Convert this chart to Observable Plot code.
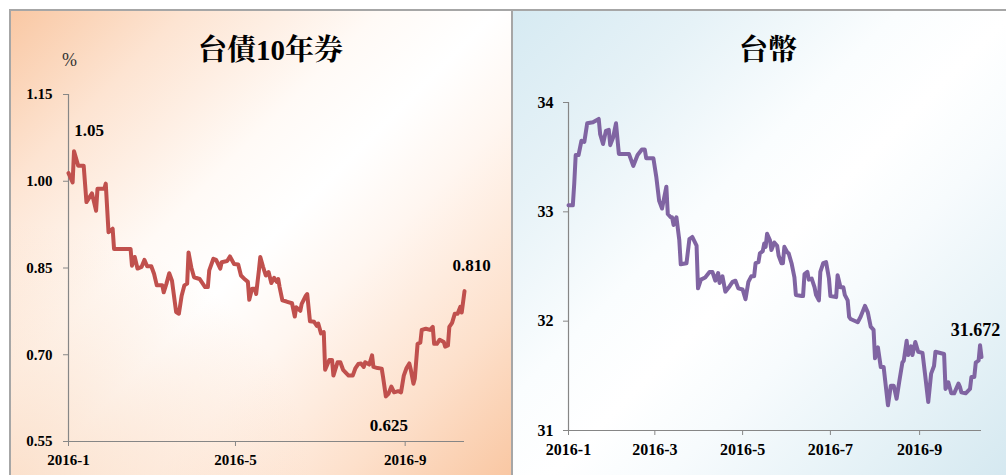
<!DOCTYPE html>
<html>
<head>
<meta charset="utf-8">
<script src="https://cdn.jsdelivr.net/npm/d3@7"></script>
<script src="https://cdn.jsdelivr.net/npm/@observablehq/plot@0.6"></script>
<style>
  html, body { margin: 0; padding: 0; background: #fff; }
  body { width: 1006px; height: 475px; overflow: hidden; position: relative; }
  .panel { position: absolute; top: 9px; height: 475px; box-sizing: border-box;
           border-top: 2px solid #a6a6a6; border-left: 2px solid #a6a6a6; overflow: hidden; }
  #p1 { left: 9px; width: 502px;
        background:
          radial-gradient(ellipse 60% 55% at 0% 100%, rgba(250,214,186,0.75), rgba(250,214,186,0) 100%),
          linear-gradient(135deg, #f9c8a4 0%, #fde4d2 18%, #fffaf6 38%, #ffffff 50%, #fff6f0 62%, #fde0cb 82%, #f9c6a1 100%); }
  #p2 { left: 511px; width: 495px;
        background:
          linear-gradient(135deg, #d6eaf2 0%, #e6f2f7 20%, #fafdfe 40%, #ffffff 52%, #f7fbfd 64%, #e4f1f6 84%, #d4e8f0 100%); }
  .panel svg { position: absolute; left: 0; top: 0; overflow: visible; }
</style>
</head>
<body>
<div id="p1" class="panel"></div>
<div id="p2" class="panel"></div>
<script>
// ---------- 台債10年券 (10-year Taiwan government bond yield, %) ----------
const bondTitle = "台債10年券";
const bondUnit = "%";
const bondYTicks = [0.55, 0.70, 0.85, 1.00, 1.15];
const bondXTicks = ["2016-01-04", "2016-05-04", "2016-09-04"];
const bondSeries = [
  ["2016-01-04",1.014],["2016-01-07",0.998],["2016-01-08",1.052],["2016-01-11",1.027],
  ["2016-01-15",1.027],["2016-01-17",0.964],["2016-01-21",0.979],["2016-01-24",0.949],
  ["2016-01-25",0.987],["2016-01-30",0.987],["2016-01-31",0.996],["2016-02-02",0.912],
  ["2016-02-05",0.918],["2016-02-06",0.883],["2016-02-18",0.883],["2016-02-19",0.854],
  ["2016-02-21",0.869],["2016-02-23",0.849],["2016-02-26",0.852],["2016-02-28",0.864],
  ["2016-03-01",0.853],["2016-03-04",0.853],["2016-03-06",0.840],["2016-03-08",0.820],
  ["2016-03-12",0.820],["2016-03-13",0.808],["2016-03-15",0.823],["2016-03-17",0.841],
  ["2016-03-19",0.828],["2016-03-22",0.774],["2016-03-24",0.771],["2016-03-26",0.802],
  ["2016-03-28",0.820],["2016-03-30",0.823],["2016-03-31",0.877],["2016-04-02",0.851],
  ["2016-04-04",0.834],["2016-04-08",0.831],["2016-04-12",0.817],["2016-04-14",0.817],
  ["2016-04-15",0.846],["2016-04-18",0.866],["2016-04-20",0.864],["2016-04-23",0.849],
  ["2016-04-24",0.860],["2016-04-28",0.862],["2016-04-30",0.870],["2016-05-03",0.857],
  ["2016-05-06",0.856],["2016-05-08",0.837],["2016-05-11",0.830],["2016-05-13",0.826],
  ["2016-05-14",0.795],["2016-05-16",0.814],["2016-05-18",0.814],["2016-05-19",0.805],
  ["2016-05-21",0.846],["2016-05-22",0.869],["2016-05-24",0.852],["2016-05-26",0.837],
  ["2016-05-28",0.843],["2016-05-30",0.824],["2016-06-01",0.833],["2016-06-03",0.826],
  ["2016-06-04",0.831],["2016-06-05",0.817],["2016-06-07",0.794],["2016-06-10",0.792],
  ["2016-06-14",0.789],["2016-06-16",0.766],["2016-06-17",0.782],["2016-06-20",0.776],
  ["2016-06-21",0.788],["2016-06-24",0.802],["2016-06-25",0.805],["2016-06-27",0.758],
  ["2016-06-30",0.757],["2016-07-02",0.750],["2016-07-03",0.754],["2016-07-05",0.737],
  ["2016-07-07",0.739],["2016-07-08",0.674],["2016-07-11",0.691],["2016-07-13",0.691],
  ["2016-07-14",0.664],["2016-07-17",0.687],["2016-07-19",0.687],["2016-07-21",0.674],
  ["2016-07-25",0.664],["2016-07-28",0.664],["2016-07-30",0.677],["2016-08-01",0.684],
  ["2016-08-03",0.685],["2016-08-05",0.679],["2016-08-06",0.687],["2016-08-09",0.683],
  ["2016-08-11",0.699],["2016-08-12",0.679],["2016-08-15",0.677],["2016-08-18",0.676],
  ["2016-08-19",0.661],["2016-08-21",0.628],["2016-08-23",0.633],["2016-08-25",0.645],
  ["2016-08-27",0.635],["2016-08-30",0.637],["2016-09-01",0.635],["2016-09-03",0.664],
  ["2016-09-05",0.677],["2016-09-07",0.685],["2016-09-08",0.675],["2016-09-10",0.650],
  ["2016-09-11",0.659],["2016-09-13",0.719],["2016-09-15",0.721],["2016-09-16",0.743],
  ["2016-09-19",0.745],["2016-09-22",0.743],["2016-09-24",0.748],["2016-09-25",0.719],
  ["2016-09-27",0.719],["2016-09-29",0.726],["2016-10-02",0.722],["2016-10-03",0.714],
  ["2016-10-05",0.716],["2016-10-06",0.748],["2016-10-08",0.755],["2016-10-10",0.771],
  ["2016-10-12",0.771],["2016-10-14",0.783],["2016-10-15",0.773],["2016-10-17",0.810]
];
const bondNotes = [
  {date: "2016-01-08", value: 1.052, label: "1.05"},
  {date: "2016-08-21", value: 0.628, label: "0.625"},
  {date: "2016-10-17", value: 0.810, label: "0.810"}
];

// ---------- 台幣 (TWD per USD) ----------
const twdTitle = "台幣";
const twdYTicks = [31, 32, 33, 34];
const twdXTicks = ["2016-01-04", "2016-03-04", "2016-05-04", "2016-07-04", "2016-09-04"];
const twdSeries = [
  ["2016-01-04",33.06],["2016-01-07",33.06],["2016-01-08",33.26],["2016-01-09",33.52],
  ["2016-01-11",33.52],["2016-01-13",33.65],["2016-01-15",33.64],["2016-01-17",33.81],
  ["2016-01-21",33.82],["2016-01-25",33.85],["2016-01-26",33.71],["2016-01-28",33.62],
  ["2016-01-30",33.74],["2016-02-01",33.75],["2016-02-02",33.61],["2016-02-04",33.68],
  ["2016-02-06",33.81],["2016-02-08",33.53],["2016-02-15",33.53],["2016-02-18",33.42],
  ["2016-02-21",33.52],["2016-02-24",33.57],["2016-02-26",33.57],["2016-02-27",33.49],
  ["2016-03-03",33.49],["2016-03-05",33.32],["2016-03-07",33.10],["2016-03-09",33.03],
  ["2016-03-12",33.23],["2016-03-13",32.98],["2016-03-15",32.95],["2016-03-16",32.95],
  ["2016-03-17",32.88],["2016-03-19",32.95],["2016-03-21",32.74],["2016-03-22",32.52],
  ["2016-03-26",32.53],["2016-03-28",32.75],["2016-03-30",32.77],["2016-04-02",32.69],
  ["2016-04-03",32.30],["2016-04-05",32.38],["2016-04-08",32.40],["2016-04-11",32.45],
  ["2016-04-13",32.45],["2016-04-15",32.37],["2016-04-17",32.44],["2016-04-18",32.35],
  ["2016-04-20",32.41],["2016-04-22",32.27],["2016-04-25",32.32],["2016-04-27",32.36],
  ["2016-04-29",32.37],["2016-05-01",32.30],["2016-05-04",32.29],["2016-05-06",32.20],
  ["2016-05-08",32.36],["2016-05-10",32.41],["2016-05-12",32.41],["2016-05-13",32.53],
  ["2016-05-15",32.54],["2016-05-16",32.62],["2016-05-18",32.64],["2016-05-19",32.71],
  ["2016-05-20",32.68],["2016-05-21",32.80],["2016-05-23",32.74],["2016-05-24",32.65],
  ["2016-05-26",32.72],["2016-05-28",32.69],["2016-05-29",32.60],["2016-05-31",32.53],
  ["2016-06-01",32.53],["2016-06-02",32.68],["2016-06-04",32.63],["2016-06-05",32.62],
  ["2016-06-07",32.53],["2016-06-09",32.40],["2016-06-10",32.24],["2016-06-14",32.23],
  ["2016-06-15",32.23],["2016-06-16",32.43],["2016-06-18",32.45],["2016-06-19",32.38],
  ["2016-06-21",32.39],["2016-06-23",32.31],["2016-06-24",32.24],["2016-06-26",32.19],
  ["2016-06-27",32.45],["2016-06-29",32.53],["2016-07-01",32.54],["2016-07-03",32.39],
  ["2016-07-04",32.23],["2016-07-08",32.22],["2016-07-09",32.42],["2016-07-11",32.31],
  ["2016-07-13",32.31],["2016-07-14",32.24],["2016-07-16",32.19],["2016-07-17",32.04],
  ["2016-07-18",32.02],["2016-07-23",31.99],["2016-07-25",32.04],["2016-07-28",32.14],
  ["2016-07-30",32.08],["2016-08-01",31.95],["2016-08-03",31.92],["2016-08-04",31.66],
  ["2016-08-06",31.76],["2016-08-08",31.58],["2016-08-10",31.58],["2016-08-13",31.23],
  ["2016-08-15",31.41],["2016-08-17",31.41],["2016-08-19",31.29],["2016-08-21",31.46],
  ["2016-08-23",31.62],["2016-08-24",31.64],["2016-08-26",31.82],["2016-08-27",31.69],
  ["2016-08-29",31.77],["2016-08-30",31.69],["2016-09-01",31.81],["2016-09-03",31.72],
  ["2016-09-06",31.71],["2016-09-08",31.49],["2016-09-10",31.26],["2016-09-12",31.52],
  ["2016-09-14",31.59],["2016-09-15",31.72],["2016-09-21",31.70],["2016-09-22",31.38],
  ["2016-09-24",31.44],["2016-09-26",31.34],["2016-09-28",31.34],["2016-10-01",31.43],
  ["2016-10-02",31.40],["2016-10-03",31.35],["2016-10-06",31.34],["2016-10-09",31.38],
  ["2016-10-10",31.49],["2016-10-12",31.49],["2016-10-13",31.62],["2016-10-15",31.64],
  ["2016-10-16",31.78],["2016-10-17",31.672]
];
const twdNotes = [
  {date: "2016-10-17", value: 31.672, label: "31.672"}
];

const xDomain = ["2016-01-04", "2016-10-17"];

// ---------- helpers ----------
const parse = d3.utcParse("%Y-%m-%d");
const toRows = s => s.map(([d, v]) => ({date: parse(d), value: v}));
const monthFmt = d => `${d.getUTCFullYear()}-${d.getUTCMonth() + 1}`;
const axisGray = "#868686";
const serif = "Liberation Serif, Times New Roman, serif";
const titleFont = "Liberation Serif, Noto Serif CJK TC, Noto Sans CJK TC, serif";

function panelChart(cfg) {
  const rows = toRows(cfg.series);
  const notes = cfg.notes.map(n => ({...n, date: parse(n.date)}));
  const x0 = parse(xDomain[0]);
  const marks = [
    Plot.ruleX([x0], {stroke: axisGray, strokeWidth: 1.2}),
    Plot.ruleY([cfg.yDomain[0]], {stroke: axisGray, strokeWidth: 1.2}),
    Plot.axisY({ticks: cfg.yTicks, tickFormat: cfg.yFormat, tickSize: 5, tickPadding: cfg.yPad,
                stroke: axisGray, fill: "#000", fontWeight: "bold", fontSize: cfg.tickFont,
                fontFamily: serif, label: null}),
    Plot.axisX({ticks: cfg.xTicks.map(parse), tickFormat: monthFmt, tickSize: 5, tickPadding: 8,
                stroke: axisGray, fill: "#000", fontWeight: "bold", fontSize: cfg.tickFont,
                fontFamily: serif, label: null}),
    Plot.line(rows, {x: "date", y: "value", stroke: cfg.color, strokeWidth: 4,
                     strokeLinejoin: "round", strokeLinecap: "round", curve: "linear"}),
    Plot.text([cfg.title], {frameAnchor: "top", lineAnchor: "middle", textAnchor: "middle",
                            dx: cfg.titleDx, dy: cfg.titleDy,
                            fontSize: 29, fontWeight: "bold", fontFamily: titleFont, fill: "#000"})
  ];
  notes.forEach((n, i) => {
    marks.push(Plot.text([n], {x: "date", y: "value", text: "label",
      dx: cfg.noteOffsets[i][0], dy: cfg.noteOffsets[i][1],
      fontSize: cfg.noteFont, fontWeight: "bold", fontFamily: serif, fill: "#000"}));
  });
  if (cfg.unit) {
    marks.push(Plot.text([cfg.unit], {frameAnchor: "top-left", lineAnchor: "middle", textAnchor: "middle",
      dx: 1, dy: -34, fontSize: 18, fontFamily: serif, fill: "#333"}));
  }
  return Plot.plot({
    width: cfg.width, height: 464,
    marginLeft: cfg.ml, marginRight: cfg.mr, marginTop: cfg.mt, marginBottom: cfg.mb,
    style: {background: "transparent", overflow: "visible"},
    x: {type: "utc", domain: xDomain.map(parse)},
    y: {domain: cfg.yDomain},
    marks
  });
}

document.getElementById("p1").appendChild(panelChart({
  series: bondSeries, notes: bondNotes, title: bondTitle, unit: bondUnit,
  yDomain: [0.55, 1.15], yTicks: bondYTicks, yFormat: d3.format(".2f"), xTicks: bondXTicks,
  color: "#c0504d", width: 500, ml: 57, mr: 47, mt: 83, mb: 34,
  tickFont: 15, yPad: 11, noteFont: 17,
  noteOffsets: [[15, -21], [3, 29], [7, -26]],
  titleDx: 4, titleDy: -44
}));

document.getElementById("p2").appendChild(panelChart({
  series: twdSeries, notes: twdNotes, title: twdTitle, unit: null,
  yDomain: [31, 34], yTicks: twdYTicks, yFormat: d3.format("d"), xTicks: twdXTicks,
  color: "#8064a2", width: 493, ml: 55, mr: 25, mt: 91, mb: 45,
  tickFont: 16, yPad: 10, noteFont: 18,
  noteOffsets: [[-6, -27]],
  titleDx: -7, titleDy: -52
}));
</script>
</body>
</html>
